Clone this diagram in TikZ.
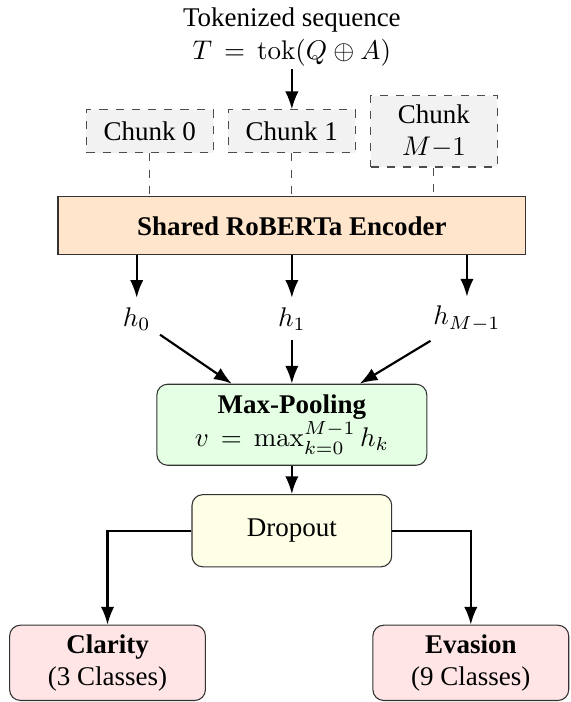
\documentclass[tikz,border=0pt]{standalone}
\usepackage[no-math]{fontspec}
\setmainfont{Liberation Serif}
\usetikzlibrary{arrows.meta,positioning,calc}

\begin{document}
\begin{tikzpicture}[
  chunkbox/.style={draw=black!70,dashed,fill=gray!10,minimum width=1.65cm,minimum height=0.56cm,align=center},
  blockbox/.style={draw=black!80,rounded corners,align=center},
  arr/.style={-{Latex},thick}]
\useasboundingbox (-3.80,0) rectangle (3.63,-9.14);
% input sequence and its chunks
\node[align=center,inner sep=1pt] (tok) at (0,-0.48) {Tokenized sequence\\$T\,=\,\mathrm{tok}(Q\oplus A)$};
\node[chunkbox] (c0) at (-1.85,-1.71) {Chunk 0};
\node[chunkbox] (c1) at (0,-1.71) {Chunk 1};
\node[chunkbox] (cm) at (1.85,-1.71) {Chunk\\$M{-}1$};
\draw[arr] (tok.south) -- (c1.north);

% shared encoder
\node[draw=black!80,fill=orange!20,minimum width=6.09cm,minimum height=0.755cm,font=\bfseries] (enc) at (0,-2.94) {Shared RoBERTa Encoder};
\foreach \c in {c0,c1,cm}
  \draw[dashed,black!70] (\c.south) -- (\c.south |- enc.north);

\node (h0) at (-2.02,-4.15) {$h_0$};
\node (h1) at (0,-4.15) {$h_1$};
\node (hm) at (2.28,-4.15) {$h_{M-1}$};
\foreach \h in {h0,h1,hm}
  \draw[arr] (\h |- enc.south) -- (\h);

% pooling and heads
\node[blockbox,fill=green!10,minimum width=3.515cm,minimum height=1.055cm] (pool) at (0,-5.53) {\textbf{Max-Pooling}\\$v\,=\,\max_{k=0}^{M-1} h_k$};
\foreach \h in {h0,h1,hm}
  \draw[arr] (\h) -- (pool);

\node[blockbox,fill=yellow!10,minimum width=2.6cm,minimum height=0.94cm] (drop) at (0,-6.91) {Dropout};
\draw[arr] (pool) -- (drop);

\node[blockbox,fill=red!10,minimum width=2.55cm,minimum height=0.98cm] (clar) at (-2.40,-8.63) {\textbf{Clarity}\\(3 Classes)};
\node[blockbox,fill=red!10,minimum width=2.55cm,minimum height=0.98cm] (evas) at (2.33,-8.63) {\textbf{Evasion}\\(9 Classes)};
\draw[arr] (drop.west) -| (clar.north);
\draw[arr] (drop.east) -| (evas.north);
\end{tikzpicture}
\end{document}
